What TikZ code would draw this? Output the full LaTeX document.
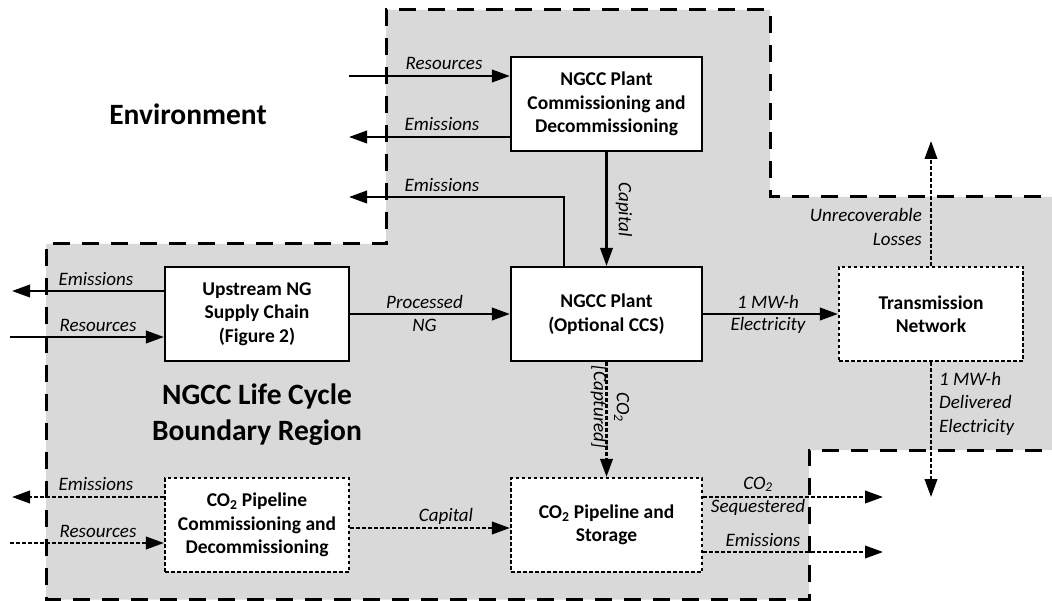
\documentclass[tikz,border=0pt]{standalone}
\usepackage{fontspec}
\setmainfont{Carlito}
\usetikzlibrary{arrows.meta}

\begin{document}
\begin{tikzpicture}[x=1pt,y=-1pt,
  boxfont/.style={font=\fontsize{19.5}{23.5}\selectfont\bfseries},
  procbox/.style={boxfont, draw, line width=2.2pt, fill=white, align=center,
    inner sep=0pt, minimum height=94pt},
  optbox/.style={procbox, dash pattern=on 3.5pt off 2.5pt},
  lbl/.style={font=\fontsize{19}{23}\selectfont\itshape, inner sep=0pt, anchor=base},
  rlbl/.style={font=\fontsize{19}{23}\selectfont\itshape, inner sep=0pt, align=center, rotate=-90},
  flow/.style={line width=2.2pt, -{Triangle[length=18pt,width=12.5pt]}},
  optflow/.style={flow, dash pattern=on 3.5pt off 2.5pt},
  region/.style={line width=3pt, dash pattern=on 17pt off 12pt},
  title/.style={font=\fontsize{29.5}{36}\selectfont\bfseries, inner sep=0pt, anchor=base}
]
\useasboundingbox (0,0) rectangle (1052,601);
\clip (0,0) rectangle (1052,601);

% life cycle boundary region
\fill[black!15] (386,10) -- (770,10) -- (770,197) -- (1070,197) -- (1070,450)
  -- (809,450) -- (809,599.5) -- (46,599.5) -- (46,244) -- (386,244) -- cycle;
\draw[region] (1070,197) -- (770,197) -- (770,10) -- (386,10) -- (386,244)
  -- (46,244) -- (46,599.5) -- (809,599.5) -- (809,450) -- (1070,450);

\node[title] (env) at (188,125) {Environment};
\node[title] (reg1) at (257,404) {NGCC Life Cycle};
\node[title] (reg2) at (257,440) {Boundary Region};

% process boxes
\node[procbox, minimum width=191pt] (cpd) at (606.5,104) {NGCC Plant\\Commissioning and\\Decommissioning};
\node[procbox, minimum width=184pt] (up) at (257,314) {Upstream NG\\Supply Chain\\(Figure 2)};
\node[procbox, minimum width=191pt] (plant) at (606.5,314) {NGCC Plant\\(Optional CCS)};
\node[optbox, minimum width=184pt] (tn) at (931,314) {Transmission\\Network};
\node[optbox, minimum width=184pt] (pcd) at (257,525) {CO\textsubscript{2} Pipeline\\Commissioning and\\Decommissioning};
\node[optbox, minimum width=191pt] (ps) at (606.5,525) {CO\textsubscript{2} Pipeline and\\Storage};

% free ends of the flows
\coordinate (r1) at (349,76);
\coordinate (e1) at (349,137);
\coordinate (e2) at (349,197);
\coordinate (e2up) at (564,0);
\coordinate (e3) at (12,291);
\coordinate (r3) at (10,337);
\coordinate (lo) at (931,141);
\coordinate (de) at (931,497);
\coordinate (e4) at (12,497);
\coordinate (r4) at (10,543);
\coordinate (c4) at (0,528);
\coordinate (sq) at (883,497);
\coordinate (e5) at (883,552);

% plant commissioning flows
\draw[flow] (r1) -- (r1 -| cpd.west);
\draw[flow] (e1 -| cpd.west) -- (e1);
\draw[flow] (plant.north -| e2up) |- (e2);
\draw[flow] (cpd.south) -- (plant.north);
\node[lbl] at (444,70) {Resources};
\node[lbl] at (442,131) {Emissions};
\node[lbl] at (442,191.5) {Emissions};
\node[rlbl] at (624,209.5) {Capital};

% main chain
\draw[flow] (e3 -| up.west) -- (e3);
\draw[flow] (r3) -- (r3 -| up.west);
\draw[flow] (up.east) -- (plant.west);
\draw[flow] (plant.east) -- (tn.west);
\node[lbl] at (96,285.5) {Emissions};
\node[lbl] at (98,332) {Resources};
\node[lbl] at (424.5,309) {Processed};
\node[lbl] at (424.5,332) {NG};
\node[lbl] at (768,308.5) {1 MW-h};
\node[lbl] at (768,331) {Electricity};

% transmission
\draw[optflow] (tn.north) -- (lo);
\draw[optflow] (tn.south) -- (de);
\node[lbl, anchor=base east] at (922,222) {Unrecoverable};
\node[lbl, anchor=base east] at (922,246) {Losses};
\node[lbl, anchor=base west] at (939,385) {1 MW-h};
\node[lbl, anchor=base west] at (939,409) {Delivered};
\node[lbl, anchor=base west] at (939,432) {Electricity};

% carbon capture and storage
\draw[optflow] (plant.south) -- (ps.north);
\node[rlbl] at (610,407) {CO\textsubscript{2}\\{[}Captured{]}};
\draw[optflow] (e4 -| pcd.west) -- (e4);
\draw[optflow] (r4) -- (r4 -| pcd.west);
\draw[optflow] (pcd.east |- c4) -- (ps.west |- c4);
\draw[optflow] (ps.east |- sq) -- (sq);
\draw[optflow] (ps.east |- e5) -- (e5);
\node[lbl] at (96,490.5) {Emissions};
\node[lbl] at (98,537) {Resources};
\node[lbl] at (446,521) {Capital};
\node[lbl] at (758,489) {CO\textsubscript{2}};
\node[lbl] at (758,512.5) {Sequestered};
\node[lbl] at (763,546.5) {Emissions};
\end{tikzpicture}
\end{document}
